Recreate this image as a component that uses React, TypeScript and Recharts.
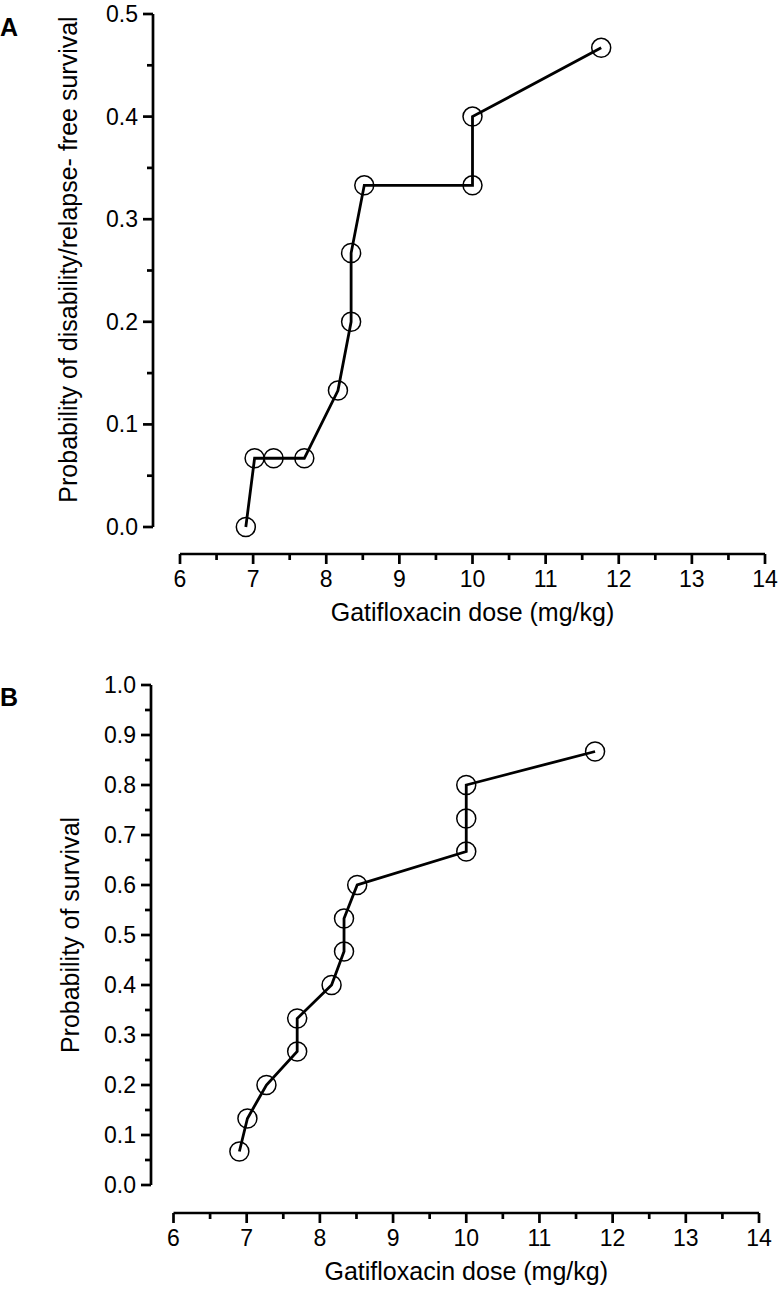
import React from 'react';
import { LineChart, Line, XAxis, YAxis, Label } from 'recharts';

// dose (mg/kg) vs probability
const doseA = [6.9, 7.02, 7.28, 7.7, 8.16, 8.34, 8.34, 8.52, 10.0, 10.0, 11.76];
const probA = [0, 0.067, 0.067, 0.067, 0.133, 0.2, 0.267, 0.333, 0.333, 0.4, 0.467];

const doseB = [6.9, 7.01, 7.27, 7.69, 7.69, 8.16, 8.33, 8.33, 8.51, 10.0, 10.0, 10.0, 11.76];
const probB = [0.067, 0.133, 0.2, 0.267, 0.333, 0.4, 0.467, 0.533, 0.6, 0.667, 0.733, 0.8, 0.867];

const xTicks = [6, 6.5, 7, 7.5, 8, 8.5, 9, 9.5, 10, 10.5, 11, 11.5, 12, 12.5, 13, 13.5, 14];
const yTicksA = [0, 0.05, 0.1, 0.15, 0.2, 0.25, 0.3, 0.35, 0.4, 0.45, 0.5];
const yTicksB = [0, 0.05, 0.1, 0.15, 0.2, 0.25, 0.3, 0.35, 0.4, 0.45, 0.5, 0.55, 0.6, 0.65, 0.7, 0.75, 0.8, 0.85, 0.9, 0.95, 1.0];

const xTitle = 'Gatifloxacin dose (mg/kg)';
const yTitleA = 'Probability of disability/relapse- free survival';
const yTitleB = 'Probability of survival';

const FONT = '"Liberation Sans", Arial, Helvetica, sans-serif';
const AXIS_W = 2.7;

const toRows = (xs: number[], ys: number[]) => xs.map((dose, i) => ({ dose, prob: ys[i] }));

const XTick = ({ x, y, payload }: any) => {
  const v = payload.value;
  const major = Math.abs(v - Math.round(v)) < 1e-6;
  return (
    <g>
      <line x1={x} x2={x} y1={y} y2={y + (major ? 10 : 6)} stroke="#000" strokeWidth={AXIS_W} />
      {major && (
        <text x={x} y={y + 25} textAnchor="middle" dominantBaseline="central" fontSize={23} fontFamily={FONT} fill="#000">
          {v}
        </text>
      )}
    </g>
  );
};

const YTick = ({ x, y, payload }: any) => {
  const v = payload.value;
  const major = Math.abs(v * 10 - Math.round(v * 10)) < 1e-6;
  return (
    <g>
      <line x1={x} x2={x - (major ? 10 : 6)} y1={y} y2={y} stroke="#000" strokeWidth={AXIS_W} />
      {major && (
        <text x={x - 15} y={y} textAnchor="end" dominantBaseline="central" fontSize={23} fontFamily={FONT} fill="#000">
          {v.toFixed(1)}
        </text>
      )}
    </g>
  );
};

const xTitleContent = (props: any) => {
  const vb = props.viewBox;
  return (
    <text x={vb.x + vb.width / 2} y={vb.y + 58} textAnchor="middle" dominantBaseline="central" fontSize={25} fontFamily={FONT} fill="#000">
      {xTitle}
    </text>
  );
};

const yTitleContent = (cx: number, shift: number, text: string) => (props: any) => {
  const vb = props.viewBox;
  const cy = vb.y + vb.height / 2 + shift;
  return (
    <text x={cx} y={cy} transform={`rotate(-90 ${cx} ${cy})`} textAnchor="middle" dominantBaseline="central" fontSize={25} fontFamily={FONT} fill="#000">
      {text}
    </text>
  );
};

type PanelProps = {
  rows: { dose: number; prob: number }[];
  yTicks: number[];
  yMax: number;
  height: number;
  margin: { top: number; right: number; bottom: number; left: number };
  padX: number;
  padY: number;
  titleX: number;
  titleShift: number;
  title: string;
};

// axis ids are ordered by name: "inner" sits next to the plot, "outer" outside it
const Panel = ({ rows, yTicks, yMax, height, margin, padX, padY, titleX, titleShift, title }: PanelProps) => (
  <LineChart width={780} height={height} data={rows} margin={margin}>
    {/* empty axes keep the drawn axes apart from the plot, as in the original */}
    <XAxis xAxisId="inner" type="number" domain={[0, 1]} height={padY} tick={false} axisLine={false} tickLine={false} />
    <XAxis
      xAxisId="outer"
      type="number"
      dataKey="dose"
      domain={[6, 14]}
      ticks={xTicks}
      interval={0}
      height={80}
      tickSize={0}
      tickMargin={0}
      tickLine={false}
      axisLine={{ stroke: '#000', strokeWidth: AXIS_W }}
      tick={<XTick />}
    >
      <Label content={xTitleContent} />
    </XAxis>
    <YAxis yAxisId="inner" type="number" domain={[0, 1]} width={padX} tick={false} axisLine={false} tickLine={false} />
    <YAxis
      yAxisId="outer"
      type="number"
      domain={[0, yMax]}
      ticks={yTicks}
      interval={0}
      width={100}
      tickSize={0}
      tickMargin={0}
      tickLine={false}
      axisLine={{ stroke: '#000', strokeWidth: AXIS_W }}
      tick={<YTick />}
    >
      <Label content={yTitleContent(titleX, titleShift, title)} />
    </YAxis>
    <Line
      xAxisId="outer"
      yAxisId="outer"
      type="linear"
      dataKey="prob"
      stroke="#000"
      strokeWidth={2.8}
      dot={{ r: 9.5, stroke: '#000', strokeWidth: 1.5, fill: 'none' }}
      isAnimationActive={false}
    />
  </LineChart>
);

export default function App() {
  return (
    <div style={{ position: 'absolute', left: 0, top: 0, width: 780, height: 1303, background: '#fff', fontFamily: FONT }}>
      <div style={{ position: 'relative', height: 650 }}>
        <Panel
          rows={toRows(doseA, probA)}
          yTicks={yTicksA}
          yMax={0.5}
          height={650}
          margin={{ top: 14, right: 15, bottom: 16, left: 53 }}
          padX={27}
          padY={27}
          titleX={68}
          titleShift={-11}
          title={yTitleA}
        />
        <span style={{ position: 'absolute', left: 0, top: 15, fontSize: 25, fontWeight: 'bold', lineHeight: 1 }}>A</span>
      </div>
      <div style={{ position: 'relative', height: 653 }}>
        <Panel
          rows={toRows(doseB, probB)}
          yTicks={yTicksB}
          yMax={1.0}
          height={653}
          margin={{ top: 35, right: 21, bottom: 10, left: 51 }}
          padX={22.5}
          padY={28}
          titleX={70}
          titleShift={0}
          title={yTitleB}
        />
        <span style={{ position: 'absolute', left: 0, top: 35, fontSize: 25, fontWeight: 'bold', lineHeight: 1 }}>B</span>
      </div>
    </div>
  );
}
